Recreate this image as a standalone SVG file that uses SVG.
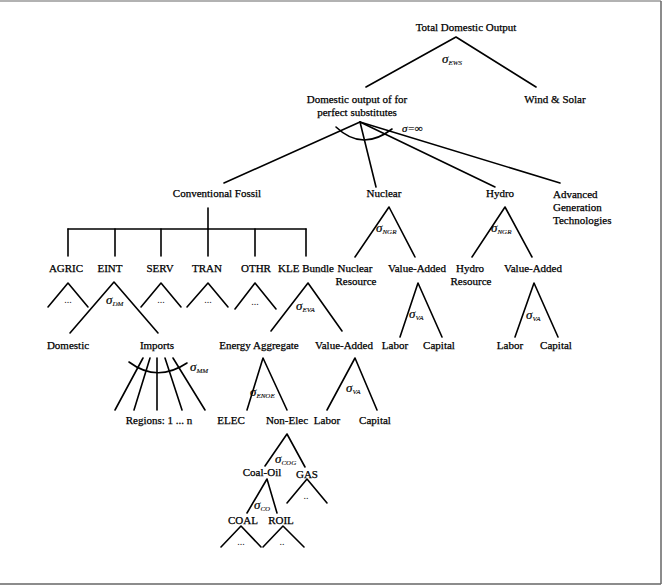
<svg xmlns="http://www.w3.org/2000/svg" width="663" height="588" viewBox="0 0 663 588">
<style>
.t{font-family:"Liberation Serif","Times New Roman",serif;font-size:11px;fill:#000;stroke:#000;stroke-width:0.25}
.m{text-anchor:middle}
.sg{font-family:"Liberation Serif","Times New Roman",serif;font-size:13px;font-style:italic;fill:#000;stroke:#000;stroke-width:0.2}
.sub{font-size:7px;stroke-width:0.1}
.d{font-family:"Liberation Serif","Times New Roman",serif;font-size:10px;fill:#222;text-anchor:middle}
.c line,.c path,.c polyline{stroke:#000;stroke-width:1.6;fill:none;stroke-linecap:round;stroke-linejoin:round}
</style>
<rect width="663" height="588" fill="#fff"/>
<g id="frame" fill="none">
<line x1="0" y1="1" x2="661" y2="1" stroke="#999" stroke-width="1.5"/>
<line x1="661" y1="1" x2="661" y2="584" stroke="#666" stroke-width="1.5"/>
<line x1="0" y1="584" x2="661" y2="584" stroke="#666" stroke-width="1.5"/>
</g>
<g id="connectors" class="c">
<polyline points="366,87 456,37 536,87"/>
<line x1="360" y1="122" x2="224" y2="183"/>
<line x1="360" y1="122" x2="376" y2="187"/>
<line x1="360" y1="122" x2="495" y2="187"/>
<line x1="360" y1="122" x2="560" y2="183"/>
<path d="M336,127 Q362,152 392,129"/>
<line x1="208" y1="208" x2="208" y2="229"/>
<line x1="68" y1="229" x2="306" y2="229"/>
<line x1="68" y1="229" x2="68" y2="256"/>
<line x1="115" y1="229" x2="115" y2="256"/>
<line x1="161" y1="229" x2="161" y2="256"/>
<line x1="208" y1="229" x2="208" y2="256"/>
<line x1="255" y1="229" x2="255" y2="256"/>
<line x1="306" y1="229" x2="306" y2="256"/>
<polyline points="48,307 68,283 88,307"/>
<polyline points="70,333 114,282 158,333"/>
<polyline points="141,307 161,283 181,307"/>
<polyline points="187,307 208,283 228,307"/>
<polyline points="235,309 255,283 276,309"/>
<polyline points="271,331 308,283 342,331"/>
<polyline points="355,257 389,207 415,257"/>
<polyline points="472,257 505,207 532,257"/>
<polyline points="400,337 418,283 442,337"/>
<polyline points="515,337 534,283 558,337"/>
<line x1="143" y1="358" x2="115" y2="410"/>
<line x1="150" y1="358" x2="134" y2="410"/>
<line x1="157" y1="358" x2="157" y2="410"/>
<line x1="165" y1="358" x2="182" y2="410"/>
<line x1="173" y1="358" x2="205" y2="410"/>
<path d="M129,362 Q157,383 187,363"/>
<polyline points="247,410 263,358 287,410"/>
<polyline points="327,410 355,358 377,410"/>
<polyline points="265,466 287,434 305,467"/>
<polyline points="247,513 267,479 277,513"/>
<polyline points="287,503 307,479 327,503"/>
<polyline points="221,547 241,526 261,547"/>
<polyline points="263,547 283,526 304,547"/>
</g>
<g id="total">
<text class="t m" x="466" y="31">Total Domestic Output</text>
<text class="sg" x="442" y="63">σ<tspan class="sub" dy="2">EWS</tspan></text>
</g>
<g id="perfect">
<text class="t m" x="357" y="103">Domestic output of for</text>
<text class="t m" x="357" y="116">perfect substitutes</text>
<text class="sg" x="402" y="132" style="font-size:11px">σ=∞</text>
</g>
<g id="windsolar"><text class="t m" x="555" y="103">Wind &amp; Solar</text></g>
<g id="fossil"><text class="t m" x="217" y="197">Conventional Fossil</text></g>
<g id="nuclear">
<text class="t m" x="384" y="197">Nuclear</text>
<text class="sg" x="376" y="232">σ<tspan class="sub" dy="2">NGR</tspan></text>
</g>
<g id="hydro">
<text class="t m" x="500" y="197">Hydro</text>
<text class="sg" x="491" y="232">σ<tspan class="sub" dy="2">NGR</tspan></text>
</g>
<g id="advanced">
<text class="t" x="553" y="198">Advanced</text>
<text class="t" x="553" y="211">Generation</text>
<text class="t" x="553" y="224">Technologies</text>
</g>
<g id="agric"><text class="t m" x="66" y="272">AGRIC</text><text class="d" x="68" y="303">...</text></g>
<g id="eint">
<text class="t m" x="110" y="272">EINT</text>
<text class="sg" x="106" y="304">σ<tspan class="sub" dy="2">DM</tspan></text>
</g>
<g id="serv"><text class="t m" x="160" y="272">SERV</text><text class="d" x="161" y="303">...</text></g>
<g id="tran"><text class="t m" x="207" y="272">TRAN</text><text class="d" x="208" y="303">...</text></g>
<g id="othr"><text class="t m" x="256" y="272">OTHR</text><text class="d" x="255" y="305">...</text></g>
<g id="kle">
<text class="t" x="278" y="272">KLE Bundle</text>
<text class="sg" x="296" y="310">σ<tspan class="sub" dy="2">EVA</tspan></text>
</g>
<g id="nucres">
<text class="t m" x="355" y="272">Nuclear</text>
<text class="t m" x="356" y="285">Resource</text>
</g>
<g id="nucva">
<text class="t m" x="417" y="272">Value-Added</text>
<text class="sg" x="409" y="318">σ<tspan class="sub" dy="2">VA</tspan></text>
</g>
<g id="hydres">
<text class="t m" x="470" y="272">Hydro</text>
<text class="t m" x="471" y="285">Resource</text>
</g>
<g id="hydva">
<text class="t m" x="533" y="272">Value-Added</text>
<text class="sg" x="526" y="319">σ<tspan class="sub" dy="2">VA</tspan></text>
</g>
<g id="domestic"><text class="t m" x="68" y="349">Domestic</text></g>
<g id="imports">
<text class="t m" x="157" y="349">Imports</text>
<text class="sg" x="190" y="371">σ<tspan class="sub" dy="2">MM</tspan></text>
</g>
<g id="energy">
<text class="t m" x="259" y="349">Energy Aggregate</text>
<text class="sg" x="250" y="396">σ<tspan class="sub" dy="2">ENOE</tspan></text>
</g>
<g id="klva">
<text class="t m" x="344" y="349">Value-Added</text>
<text class="sg" x="346" y="392">σ<tspan class="sub" dy="2">VA</tspan></text>
</g>
<g id="nuclabor"><text class="t m" x="395" y="349">Labor</text></g>
<g id="nuccapital"><text class="t m" x="439" y="349">Capital</text></g>
<g id="hydlabor"><text class="t m" x="510" y="349">Labor</text></g>
<g id="hydcapital"><text class="t m" x="556" y="349">Capital</text></g>
<g id="regions"><text class="t m" x="159" y="424">Regions: 1 ... n</text></g>
<g id="elec"><text class="t m" x="231" y="424">ELEC</text></g>
<g id="nonelec">
<text class="t m" x="287" y="424">Non-Elec</text>
<text class="sg" x="275" y="463">σ<tspan class="sub" dy="2">COG</tspan></text>
</g>
<g id="klabor"><text class="t m" x="327" y="424">Labor</text></g>
<g id="kcapital"><text class="t m" x="375" y="424">Capital</text></g>
<g id="coaloil">
<text class="t m" x="262" y="476">Coal-Oil</text>
<text class="sg" x="254" y="509">σ<tspan class="sub" dy="2">CO</tspan></text>
</g>
<g id="gas"><text class="t m" x="307" y="478">GAS</text><text class="d" x="306" y="499">..</text></g>
<g id="coal"><text class="t m" x="243" y="524">COAL</text><text class="d" x="241" y="545">...</text></g>
<g id="roil"><text class="t m" x="281" y="524">ROIL</text><text class="d" x="282" y="545">..</text></g>
</svg>
